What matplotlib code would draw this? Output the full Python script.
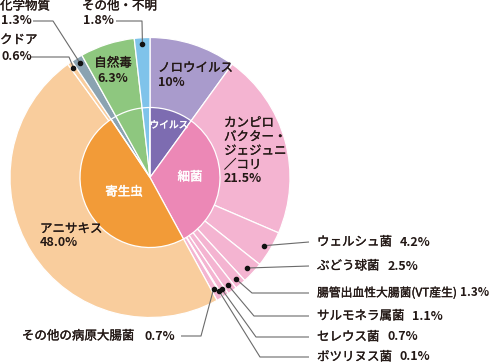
import numpy as np
import matplotlib.pyplot as plt
import matplotlib.patheffects as pe

plt.rcParams['font.family'] = ['Noto Sans CJK JP', 'DejaVu Sans']

# outer ring: individual causes (clockwise from the top)
names = ['ノロウイルス', 'カンピロバクター・ジェジュニ／コリ', 'ウェルシュ菌', 'ぶどう球菌',
         '腸管出血性大腸菌(VT産生)', 'サルモネラ属菌', 'セレウス菌', 'ボツリヌス菌',
         'その他の病原大腸菌', 'アニサキス', 'クドア', '化学物質', '自然毒', 'その他・不明']
values = [10, 21.5, 4.2, 2.5, 1.3, 1.1, 0.7, 0.1, 0.7, 48.0, 0.6, 1.3, 6.3, 1.8]
colors = ['#a99bcc', '#f4b4d1', '#f4b4d1', '#f4b4d1', '#f4b4d1', '#f4b4d1', '#f4b4d1',
          '#f4b4d1', '#f4b4d1', '#f9cd9d', '#f9cd9d', '#8ba3b1', '#8ec77f', '#7fc3ea']

# inner ring: groups
groups = ['ウイルス', '細菌', '寄生虫']
group_values = [10, 32.1, 48.6]
group_colors = ['#7d6cb1', '#ec88b6', '#f29b38']

W, H = 499, 363
cx, cy = 150, 177.5
R_OUT, R_IN = 140, 70
TXT = '#231815'
LINE = '#6b6b6b'

fig = plt.figure(figsize=(W / 100, H / 100), dpi=100)
ax = fig.add_axes([0, 0, 1, 1])

total = sum(values)
ax.pie(values, colors=colors, radius=R_OUT, center=(cx, cy), startangle=270,
       counterclock=True, frame=True,
       wedgeprops=dict(edgecolor='white', linewidth=0.9))
rest = total - sum(group_values)
ax.pie(group_values + [rest], colors=group_colors + ['none'], radius=R_IN,
       center=(cx, cy), startangle=270, counterclock=True, frame=True,
       wedgeprops=dict(edgecolor='white', linewidth=0.9))
ax.set_xlim(0, W)
ax.set_ylim(H, 0)
ax.axis('off')

cum = np.cumsum(values) - np.array(values) / 2
mid_ang = np.radians(360 * cum / total)


def dot_pos(i, r):
    return cx + r * np.sin(mid_ang[i]), cy - r * np.cos(mid_ang[i])


fs = 9
heavy = [pe.withStroke(linewidth=0.2, foreground=TXT)]


def label(x, y, s, bold=False, size=fs, **kw):
    return ax.text(x, y, s, fontsize=size, color=TXT, va='center',
                   weight='bold' if bold else 'normal',
                   path_effects=None if bold else heavy, **kw)


# labels inside wedges
label(158, 68, 'ノロウイルス')
label(158, 83, '10%', bold=True)
for k, s in enumerate(['カンピロ', 'バクター・', 'ジェジュニ', '／コリ']):
    label(224, 123 + k * 14, s)
label(224, 179, '21.5%', bold=True)
label(113, 63, '自然毒', ha='center')
label(113, 79, '6.3%', bold=True, ha='center')
label(40, 229, 'アニサキス')
label(40, 243, '48.0%', bold=True)
white = [pe.withStroke(linewidth=0.3, foreground='white')]
ax.text(169, 125, groups[0], fontsize=7, color='white', va='center', ha='center',
        path_effects=white)
ax.text(190, 177, groups[1], fontsize=9, color='white', va='center', ha='center',
        path_effects=white)
ax.text(124, 192, groups[2], fontsize=9, color='white', va='center', ha='center',
        path_effects=white)

fig.canvas.draw()
rend = fig.canvas.get_renderer()
inv = ax.transData.inverted()


def name_pct(x, y, name, pct, gap=8, align='left', size=fs):
    t = label(x, y, name, size=size)
    bb = t.get_window_extent(rend)
    x1 = inv.transform((bb.x1, bb.y0))[0]
    p = label(x1 + gap, y, pct, bold=True, size=size)
    if align == 'right':
        pb = p.get_window_extent(rend)
        shift = x - inv.transform((pb.x1, pb.y0))[0]
        t.set_x(x + shift)
        p.set_x(x1 + gap + shift)


def leader(i, r, pts):
    dx, dy = dot_pos(i, r)
    xs = [dx] + [p[0] for p in pts]
    ys = [dy] + [p[1] for p in pts]
    ax.plot(xs, ys, color=LINE, lw=0.8, solid_capstyle='butt')
    ax.plot(dx, dy, 'o', color='#111111', ms=3)


# right side labels
right = [(2, 242, None), (3, 266, None), (4, 293, 252), (5, 316, 254),
         (6, 337, 256), (7, 357, 260)]
for i, y, elbow in right:
    pct = '%.1f%%' % values[i]
    if i == 4:
        name_pct(317, y, names[i], pct, gap=4, size=8.5)
    else:
        name_pct(317, y, names[i], pct, gap=8)
    if elbow is None:
        leader(i, 133, [(309, y)])
    else:
        leader(i, 133, [(elbow, y), (309, y)])

# bottom-left label
name_pct(175, 336, names[8], '%.1f%%' % values[8], gap=10, align='right')
leader(8, 128, [(201, 336), (181, 336)])

# top-left labels
label(0, 6, names[11])
label(1, 21, '%.1f%%' % values[11], bold=True)
leader(11, 134, [(53, 21), (33, 21)])
label(0, 40, names[10])
label(1, 57, '%.1f%%' % values[10], bold=True)
leader(10, 134, [(69, 57), (31, 57)])
label(82, 6, names[13])
label(83, 21, '%.1f%%' % values[13], bold=True)
leader(13, 134, [(142, 21), (116, 21)])

fig.savefig('out.png', dpi=100)
